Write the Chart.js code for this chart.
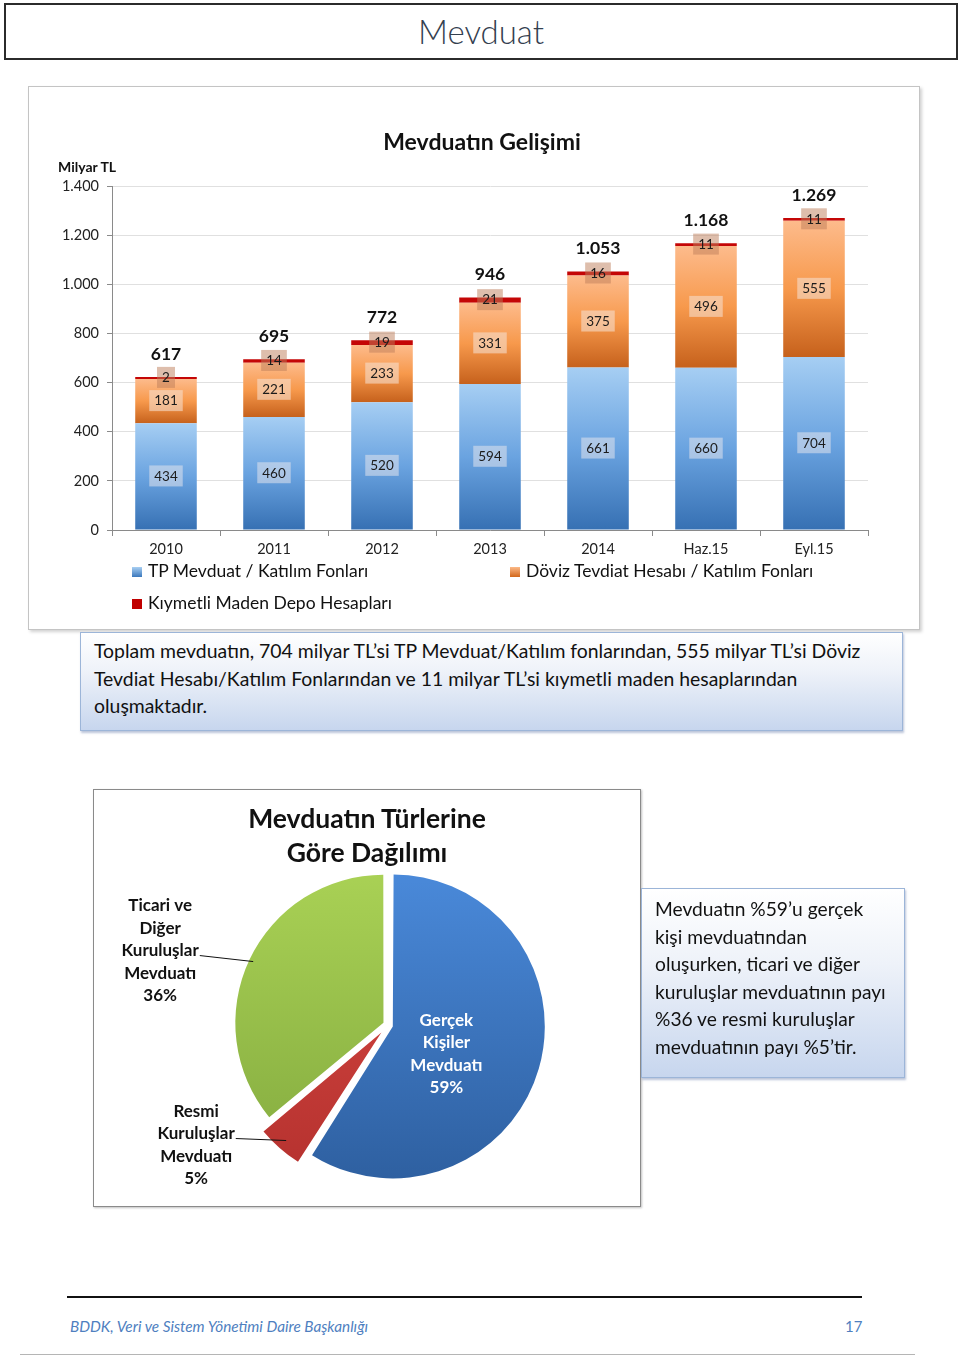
<!DOCTYPE html>
<html>
<head>
<meta charset="utf-8">
<title>Mevduat</title>
<script src="https://cdn.jsdelivr.net/npm/chart.js"></script>
<style>
  body { margin: 0; background: #fff; font-family: Lato, "Open Sans", sans-serif; color: #111; }
  #page { position: relative; width: 960px; height: 1356px; overflow: hidden; }
  .abs { position: absolute; }
  #head { left: 4px; top: 3px; width: 950px; height: 53px; border: 2px solid #2b2b2b; text-align: center;
          font-size: 33px; font-weight: 300; line-height: 53px; color: #34404f; }
  #barBox { left: 28px; top: 86px; width: 890px; height: 542px; border: 1px solid #c4c4c4;
            box-shadow: 2px 2px 3px rgba(0,0,0,0.18); }
  #barTitle { left: 282px; top: 127px; width: 400px; text-align: center; font-weight: bold; font-size: 23px; }
  #unit { left: 58px; top: 158px; font-weight: bold; font-size: 14px; }
  .leg { font-size: 17.5px; line-height: 20px; white-space: nowrap; }
  .sq { display: inline-block; width: 10px; height: 10px; margin-right: 6px; }
  #note1 { left: 80px; top: 632px; width: 808px; height: 87px; padding: 4px 0 6px 13px;
           border: 1px solid #9cb5d8; box-shadow: 1px 2px 2px rgba(120,140,180,0.5);
           background: linear-gradient(to bottom, #ffffff 0%, #eef2f9 40%, #c7d6ee 100%);
           font-size: 19.4px; line-height: 27.5px; white-space: nowrap; }
  #pieBox { left: 93px; top: 789px; width: 546px; height: 416px; border: 1px solid #8a8a8a;
            box-shadow: 1px 1px 2px rgba(0,0,0,0.25); }
  #pieTitle { left: 167px; top: 801px; width: 400px; text-align: center; font-weight: bold; font-size: 26.5px; line-height: 34px; }
  #note2 { left: 641px; top: 888px; width: 249px; height: 176px; padding: 6px 0 6px 13px;
           border: 1px solid #9cb5d8; box-shadow: 1px 2px 2px rgba(120,140,180,0.5);
           background: linear-gradient(to bottom, #ffffff 0%, #eef2f9 40%, #c7d6ee 100%);
           font-size: 19.2px; line-height: 27.5px; white-space: nowrap; }
  #footLine { left: 67px; top: 1296px; width: 795px; height: 2px; background: #111; }
  #footText { left: 70px; top: 1317px; font-style: italic; font-size: 15.3px; color: #4f7fbf; }
  #footNo { left: 845px; top: 1317px; font-size: 15px; color: #4f7fbf; }
  #bottomLine { left: 20px; top: 1354px; width: 895px; height: 1px; background: #b5b5b5; }
</style>
</head>
<body>
<div id="page">
  <div id="head" class="abs">Mevduat</div>

  <div id="barBox" class="abs"></div>
  <canvas id="barChart" class="abs" style="left:28px;top:86px" width="892" height="544"></canvas>
  <div id="barTitle" class="abs">Mevduatın Gelişimi</div>
  <div id="unit" class="abs">Milyar TL</div>
  <div class="abs leg" style="left:132px;top:561px"><span class="sq" style="background:linear-gradient(#a8cff3,#3b78bc)"></span>TP Mevduat / Katılım Fonları</div>
  <div class="abs leg" style="left:510px;top:561px"><span class="sq" style="background:linear-gradient(#fcb987,#d2671a)"></span>Döviz Tevdiat Hesabı / Katılım Fonları</div>
  <div class="abs leg" style="left:132px;top:593px"><span class="sq" style="background:#c00000"></span>Kıymetli Maden Depo Hesapları</div>

  <div id="note1" class="abs">Toplam mevduatın, 704 milyar TL’si TP Mevduat/Katılım fonlarından, 555 milyar TL’si Döviz<br>Tevdiat Hesabı/Katılım Fonlarından ve 11 milyar TL’si kıymetli maden hesaplarından<br>oluşmaktadır.</div>

  <div id="pieBox" class="abs"></div>
  <canvas id="pieChart" class="abs" style="left:93px;top:789px" width="548" height="418"></canvas>
  <div id="pieTitle" class="abs">Mevduatın Türlerine<br>Göre Dağılımı</div>

  <div id="note2" class="abs">Mevduatın %59’u gerçek<br>kişi mevduatından<br>oluşurken, ticari ve diğer<br>kuruluşlar mevduatının payı<br>%36 ve resmi kuruluşlar<br>mevduatının payı %5’tir.</div>

  <div id="footLine" class="abs"></div>
  <div id="footText" class="abs">BDDK, Veri ve Sistem Yönetimi Daire Başkanlığı</div>
  <div id="footNo" class="abs">17</div>
  <div id="bottomLine" class="abs"></div>
</div>

<script>
// ---- data ----
const years = ['2010', '2011', '2012', '2013', '2014', 'Haz.15', 'Eyl.15'];
const tpMevduat = [434, 460, 520, 594, 661, 660, 704];
const dovizTevdiat = [181, 221, 233, 331, 375, 496, 555];
const kiymetliMaden = [2, 14, 19, 21, 16, 11, 11];
const totals = [617, 695, 772, 946, 1053, 1168, 1269];
const seriesNames = ['TP Mevduat / Katılım Fonları', 'Döviz Tevdiat Hesabı / Katılım Fonları', 'Kıymetli Maden Depo Hesapları'];
const yTicks = [0, 200, 400, 600, 800, 1000, 1200, 1400];

const pieNames = ['Gerçek Kişiler Mevduatı', 'Resmi Kuruluşlar Mevduatı', 'Ticari ve Diğer Kuruluşlar Mevduatı'];
const pieShares = [59, 5, 36];
const pieLabelLines = [
    ['Gerçek', 'Kişiler', 'Mevduatı', '59%'],
    ['Resmi', 'Kuruluşlar', 'Mevduatı', '5%'],
    ['Ticari ve', 'Diğer', 'Kuruluşlar', 'Mevduatı', '36%']
];

// ---- styles ----
const pieOffsets = [20, 40, 20];
const pieTop = ['#4b8bdc', '#da4a45', '#abd356'];
const pieBottom = ['#2d5e9e', '#b3302d', '#82a93e'];
const labelBg = ['rgba(225,228,236,0.55)', 'rgba(245,222,205,0.6)', 'rgba(190,125,90,0.5)'];

function fmt(v) {
    return String(v).replace(/\B(?=(\d{3})+(?!\d))/g, '.');
}

// gradient for one stacked segment, from its own top to bottom
function segFill(stops, lower) {
    return function (c) {
        const chart = c.chart;
        const y = chart.scales && chart.scales.y;
        if (!chart.chartArea || !y || c.dataIndex === undefined) return stops[Math.floor(stops.length / 2)];
        const i = c.dataIndex;
        const base = lower.reduce((s, arr) => s + arr[i], 0);
        const val = c.dataset.data[i];
        const yTop = y.getPixelForValue(base + val);
        const yBot = y.getPixelForValue(base);
        if (!(yBot - yTop > 1)) return stops[0];
        const g = chart.ctx.createLinearGradient(0, yTop, 0, yBot);
        stops.forEach((col, k) => g.addColorStop(k / (stops.length - 1), col));
        return g;
    };
}

const barLabels = {
    id: 'barLabels',
    afterDatasetsDraw(chart) {
        const ctx = chart.ctx;
        ctx.save();
        ctx.textAlign = 'center';
        ctx.textBaseline = 'middle';
        ctx.font = '13.5px Lato';
        chart.data.datasets.forEach((ds, di) => {
            chart.getDatasetMeta(di).data.forEach((bar, i) => {
                const txt = fmt(ds.data[i]);
                const yc = (bar.y + bar.base) / 2;
                const w = Math.max(ctx.measureText(txt).width + 10, 18);
                ctx.fillStyle = labelBg[di];
                ctx.fillRect(bar.x - w / 2, yc - 11, w, 21);
                ctx.fillStyle = '#1b1b1b';
                ctx.fillText(txt, bar.x, yc);
            });
        });
        ctx.font = 'bold 17.5px Lato';
        ctx.fillStyle = '#111';
        const top = chart.getDatasetMeta(2).data;
        top.forEach((bar, i) => ctx.fillText(fmt(totals[i]), bar.x, bar.y - 23));
        ctx.restore();
    }
};

new Chart(document.getElementById('barChart'), {
    type: 'bar',
    data: {
        labels: years,
        datasets: [
            { label: seriesNames[0], data: tpMevduat, backgroundColor: segFill(['#a6cef3', '#6aa3e0', '#3670b3'], []) },
            { label: seriesNames[1], data: dovizTevdiat, backgroundColor: segFill(['#fdbb8c', '#f7994c', '#c6611c'], [tpMevduat]) },
            { label: seriesNames[2], data: kiymetliMaden, backgroundColor: '#c40606', minBarLength: 2 }
        ]
    },
    options: {
        responsive: false,
        animation: false,
        datasets: { bar: { categoryPercentage: 1, barPercentage: 0.57, borderWidth: 0 } },
        layout: { padding: { left: 0, top: 100, right: 52, bottom: 0 } },
        plugins: { legend: { display: false }, tooltip: { enabled: false } },
        scales: {
            x: {
                stacked: true,
                grid: { drawOnChartArea: false, tickLength: 6, color: '#8a8a8a', offset: true },
                border: { color: '#8a8a8a' },
                ticks: { color: '#222', font: { family: 'Lato', size: 14.5 }, padding: 5, maxRotation: 0 },
                afterFit: s => { s.height = 100; }
            },
            y: {
                stacked: true,
                min: yTicks[0],
                max: yTicks[yTicks.length - 1],
                afterBuildTicks: s => { s.ticks = yTicks.map(v => ({ value: v })); },
                ticks: { callback: v => fmt(v), color: '#222', font: { family: 'Lato', size: 14.5 }, padding: 8 },
                grid: { color: '#e0e0e0', tickColor: '#8a8a8a', tickLength: 5 },
                border: { color: '#8a8a8a' },
                afterFit: s => { s.width = 84; }
            }
        }
    },
    plugins: [barLabels]
});

// ---- pie ----
function pieFill(c) {
    const chart = c.chart;
    const a = chart.chartArea;
    const i = c.dataIndex;
    if (!a || i === undefined) return pieTop[i || 0];
    const g = chart.ctx.createLinearGradient(0, a.top, 0, a.bottom);
    g.addColorStop(0, pieTop[i]);
    g.addColorStop(1, pieBottom[i]);
    return g;
}

function arcPoint(arc, r) {
    const half = (arc.startAngle + arc.endAngle) / 2;
    const d = r + (arc.options.offset || 0) / 4;
    return { x: arc.x + Math.cos(half) * d, y: arc.y + Math.sin(half) * d };
}

const pieText = {
    id: 'pieText',
    afterDraw(chart) {
        const ctx = chart.ctx;
        const arcs = chart.getDatasetMeta(0).data;
        const lh = 22.5;
        ctx.save();
        ctx.font = 'bold 17px Lato';
        ctx.textAlign = 'center';
        ctx.textBaseline = 'middle';

        // inner label on the large slice
        const R = arcs[0].outerRadius;
        const p = arcPoint(arcs[0], R * 0.5);
        ctx.fillStyle = '#fff';
        pieLabelLines[0].forEach((t, k) => ctx.fillText(t, p.x - 17, p.y + 7 + (k - 1.5) * lh));

        // outside labels with leader lines
        const outside = [
            { i: 2, dx: -93, dy: -11, lead: 2 },
            { i: 1, dx: -90, dy: -7, lead: 1 }
        ];
        ctx.fillStyle = '#111';
        ctx.strokeStyle = '#111';
        ctx.lineWidth = 1;
        outside.forEach(o => {
            const arc = arcs[o.i];
            const a = arcPoint(arc, arc.outerRadius - 3);
            const lines = pieLabelLines[o.i];
            const cx = a.x + o.dx;
            const ly = a.y + o.dy;
            lines.forEach((t, k) => ctx.fillText(t, cx, ly + (k - o.lead) * lh));
            const w = ctx.measureText(lines[o.lead]).width;
            ctx.beginPath();
            ctx.moveTo(cx + w / 2 + 1, ly + 5);
            ctx.lineTo(a.x, a.y);
            ctx.stroke();
        });
        ctx.restore();
    }
};

new Chart(document.getElementById('pieChart'), {
    type: 'pie',
    data: {
        labels: pieNames,
        datasets: [{
            data: pieShares,
            backgroundColor: pieFill,
            borderWidth: 0,
            offset: pieOffsets,
            hoverOffset: 0
        }]
    },
    options: {
        responsive: false,
        animation: false,
        layout: { padding: { left: 128, top: 69, right: 86, bottom: 15 } },
        plugins: { legend: { display: false }, tooltip: { enabled: false } }
    },
    plugins: [pieText]
});
</script>
</body>
</html>
